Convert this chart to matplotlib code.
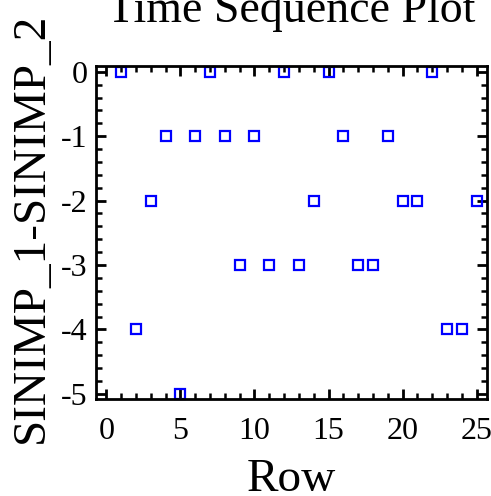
import matplotlib
matplotlib.use('Agg')
import matplotlib.pyplot as plt
from matplotlib.ticker import MultipleLocator

plt.rcParams['font.family'] = ['Liberation Serif', 'DejaVu Serif']
plt.rcParams['axes.unicode_minus'] = False

# Data
rows = list(range(1, 26))
diffs = [0, -4, -2, -1, -5, -1, 0, -1, -3, -1, -3, 0, -3, -2, 0,
         -1, -3, -3, -1, -2, -2, 0, -4, -4, -2]
x_ticks = [0, 5, 10, 15, 20, 25]
y_ticks = [0, -1, -2, -3, -4, -5]

fig = plt.figure(figsize=(4.91, 4.96), dpi=100)
ax = fig.add_axes([0.1955, 0.1956, 0.7965, 0.6714])

ax.plot(rows, diffs, linestyle='none', marker='s', markersize=7,
        markerfacecolor='none', markeredgecolor='#0000ff', markeredgewidth=1.6,
        clip_on=False)

ax.set_xlim(-0.7, 25.7)
ax.set_ylim(-5.08, 0.09)
ax.set_xticks(x_ticks)
ax.set_yticks(y_ticks)
ax.xaxis.set_minor_locator(MultipleLocator(1))
ax.yaxis.set_minor_locator(MultipleLocator(0.2))

for s in ax.spines.values():
    s.set_linewidth(2)

ax.tick_params(which='both', direction='in', top=True, right=True, width=2)
ax.tick_params(which='major', length=7)
ax.tick_params(which='minor', length=4, width=1.8)
ax.tick_params(axis='x', labelsize=23, pad=13)
ax.tick_params(axis='y', labelsize=23, pad=6)

ax.set_title('Time Sequence Plot', fontsize=33, pad=32)
ax.set_xlabel('Row', fontsize=34, labelpad=9)
ax.set_ylabel('SINIMP_1-SINIMP_2', fontsize=34)
ax.yaxis.set_label_coords(-0.11, 0.515)

fig.savefig('out.png', dpi=100)
